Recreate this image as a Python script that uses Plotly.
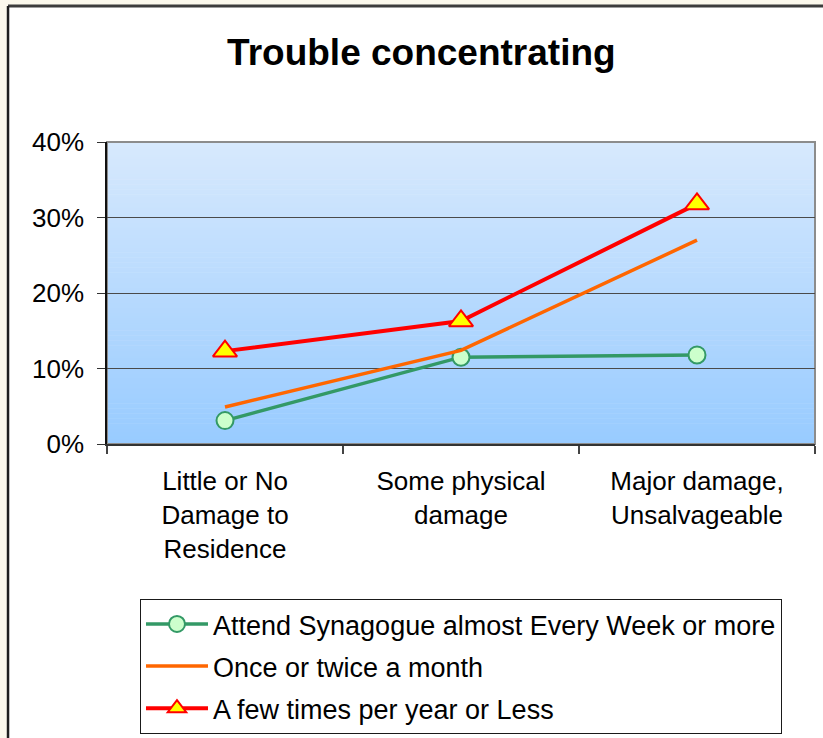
import plotly.graph_objects as go

# Damage level categories (x axis)
categories = [
    "Little or No<br>Damage to<br>Residence",
    "Some physical<br>damage",
    "Major damage,<br>Unsalvageable",
]

# Share reporting trouble concentrating, by synagogue attendance (%)
weekly = [3.1, 11.5, 11.8]
monthly = [4.9, 12.4, 27.0]
yearly_or_less = [12.3, 16.3, 31.8]

series_names = [
    "Attend Synagogue almost Every Week or more",
    "Once or twice a month",
    "A few times per year or Less",
]

y_ticks = [0, 10, 20, 30, 40]
y_tick_text = ["0%", "10%", "20%", "30%", "40%"]

FONT = "Liberation Sans, Arial, sans-serif"

fig = go.Figure()

fig.add_trace(go.Scatter(
    x=categories, y=weekly, name=series_names[0], mode="lines+markers",
    line=dict(color="#339966", width=3.5),
    marker=dict(symbol="circle", size=17, color="#CCFFCC",
                line=dict(color="#339966", width=2)),
    legendgroup="a",
))
fig.add_trace(go.Scatter(
    x=categories, y=monthly, name=series_names[1], mode="lines",
    line=dict(color="#FF6600", width=3.5),
    legendgroup="b",
))
fig.add_trace(go.Scatter(
    x=categories, y=yearly_or_less, name=series_names[2], mode="lines+markers",
    line=dict(color="#FF0000", width=4),
    marker=dict(symbol="triangle-up", size=21, color="#FFFF00",
                line=dict(color="#FF0000", width=2)),
    legendgroup="c",
))

shapes = []

# Cream slide strip outside the chart frame
shapes.append(dict(type="rect", xref="paper", yref="paper",
                   x0=-0.2, x1=1.05, y0=-1.1, y1=1.5,
                   fillcolor="#FBF8EC", line=dict(width=0), layer="below"))
# White chart area with dark frame on the top and left
shapes.append(dict(type="rect", xref="paper", yref="paper",
                   x0=-0.1398, x1=1.05, y0=-1.1, y1=1.4505,
                   fillcolor="white", line=dict(width=0), layer="below"))
shapes.append(dict(type="line", xref="paper", yref="paper",
                   x0=-0.1398, x1=1.05, y0=1.4505, y1=1.4505,
                   line=dict(color="#3C3C3C", width=3), layer="below"))
shapes.append(dict(type="line", xref="paper", yref="paper",
                   x0=-0.1398, x1=-0.1398, y0=-1.1, y1=1.4505,
                   line=dict(color="#1E1E1E", width=2.5), layer="below"))

# Vertical gradient for the plot background, light at top to blue at bottom
top_rgb = (215, 233, 253)
bottom_rgb = (152, 203, 255)
n_bands = 120
for i in range(n_bands):
    t = i / (n_bands - 1)
    r = round(bottom_rgb[0] + (top_rgb[0] - bottom_rgb[0]) * t)
    g = round(bottom_rgb[1] + (top_rgb[1] - bottom_rgb[1]) * t)
    b = round(bottom_rgb[2] + (top_rgb[2] - bottom_rgb[2]) * t)
    shapes.append(dict(type="rect", xref="x domain", yref="y domain",
                       x0=0, x1=1, y0=i / n_bands, y1=(i + 1) / n_bands + 0.002,
                       fillcolor=f"rgb({r},{g},{b})", line=dict(width=0),
                       layer="below"))
# Gray border on the top and right of the plot area
shapes.append(dict(type="rect", xref="x domain", yref="y domain",
                   x0=0, x1=1, y0=0, y1=1,
                   fillcolor="rgba(0,0,0,0)", line=dict(color="#8C8C8C", width=2),
                   layer="below"))

fig.update_layout(
    width=823, height=738,
    margin=dict(l=107, r=8, t=142, b=294, autoexpand=False),
    paper_bgcolor="white",
    plot_bgcolor="rgba(0,0,0,0)",
    font=dict(family=FONT, color="black", size=26),
    title=dict(text="<b>Trouble concentrating</b>", font=dict(size=37, family=FONT),
               x=0.512, xanchor="center", xref="container",
               y=1 - 52 / 738, yanchor="middle", yref="container"),
    shapes=shapes,
    showlegend=True,
    legend=dict(x=0.0466, y=-0.513, xanchor="left", yanchor="top",
                xref="paper", yref="paper",
                bgcolor="white", bordercolor="#1A1A1A", borderwidth=1,
                font=dict(size=27, family=FONT), itemwidth=62,
                traceorder="grouped", tracegroupgap=4),
    xaxis=dict(type="category", tickson="boundaries", ticks="outside", ticklen=8,
               tickcolor="#444", tickwidth=1.5,
               showline=True, linecolor="#333", linewidth=2,
               showgrid=False, zeroline=False, fixedrange=True,
               tickfont=dict(size=26), ticklabelstandoff=13,
               range=[-0.5, 2.5]),
    yaxis=dict(range=[0, 40], tickvals=y_ticks, ticktext=y_tick_text,
               ticks="outside", ticklen=8, tickcolor="#333", tickwidth=1,
               showline=True, linecolor="#111", linewidth=1.5,
               showgrid=True, gridcolor="#4A4A4A", gridwidth=1,
               zeroline=False, fixedrange=True,
               tickfont=dict(size=26), ticklabelstandoff=8),
)

fig.write_html("out.html")
